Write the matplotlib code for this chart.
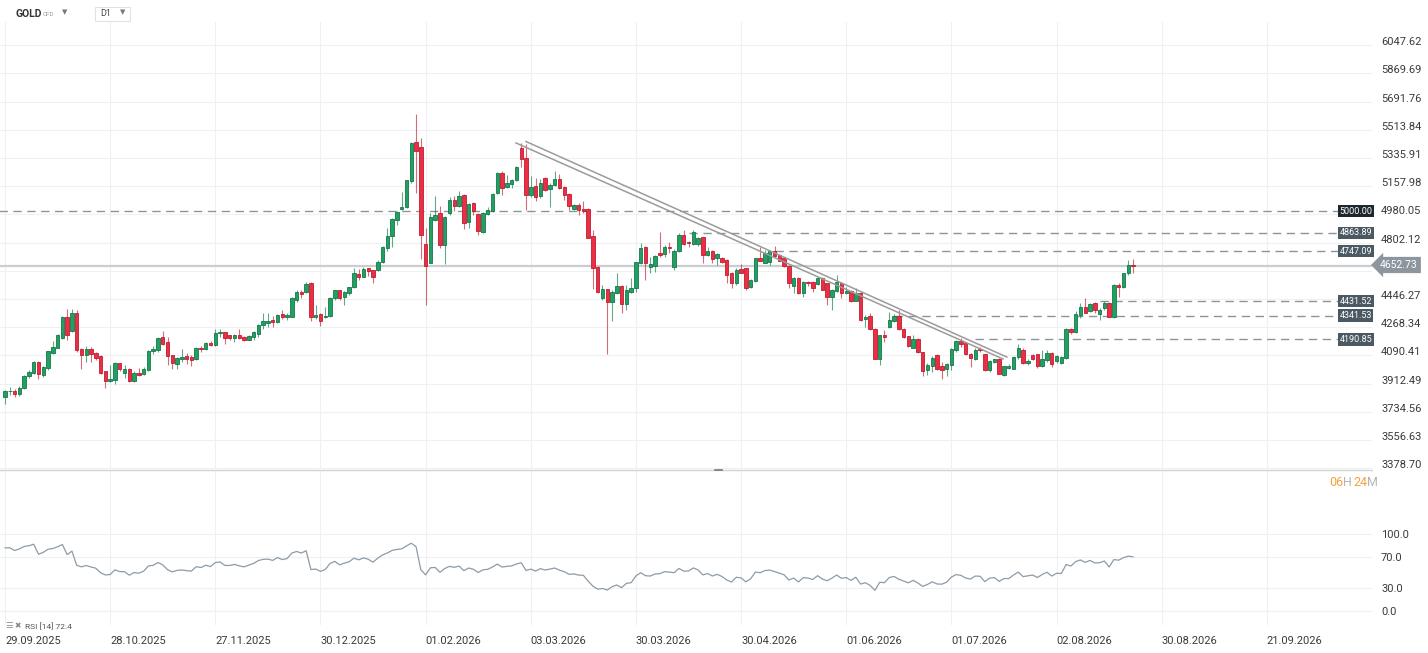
import numpy as np
import matplotlib
matplotlib.use("Agg")
import matplotlib.pyplot as plt
import matplotlib.transforms as mtransforms
from matplotlib.lines import Line2D

plt.rcParams['font.family'] = ['Roboto', 'DejaVu Sans']

# daily candles, GOLD CFD
open_ = [3827, 3863, 3866, 3845, 3884, 3960, 3980, 4047, 3965, 4012,
         4108, 4140, 4203, 4334, 4245, 4357, 4129, 4091, 4129, 4106,
         4085, 3990, 3931, 3935, 4041, 3977, 4007, 3931, 3982, 3973,
         4000, 4117, 4123, 4207, 4175, 4091, 4036, 4066, 4085, 4081,
         4066, 4140, 4128, 4170, 4153, 4229, 4237, 4216, 4201, 4216,
         4205, 4190, 4207, 4226, 4285, 4296, 4313, 4304, 4349, 4330,
         4334, 4439, 4492, 4492, 4545, 4330, 4349, 4330, 4340, 4450,
         4500, 4456, 4482, 4520, 4606, 4587, 4640, 4629, 4629, 4678,
         4766, 4841, 4946, 5014, 5027, 5189, 5438, 5406, 4794, 4676,
         4946, 4989, 4788, 4989, 5073, 5030, 5104, 4931, 5052, 4982,
         4872, 4982, 5003, 5115, 5241, 5153, 5174, 5197, 5396, 5336,
         5104, 5161, 5094, 5210, 5140, 5168, 5206, 5153, 5109, 5016,
         5041, 5016, 5014, 4845, 4651, 4450, 4507, 4425, 4482, 4529,
         4415, 4488, 4514, 4676, 4777, 4651, 4655, 4735, 4731, 4777,
         4650, 4750, 4851, 4809, 4794, 4794, 4836, 4724, 4752, 4703,
         4707, 4693, 4613, 4545, 4634, 4640, 4524, 4560, 4703, 4676,
         4682, 4746, 4724, 4703, 4657, 4530, 4577, 4486, 4556, 4556,
         4539, 4577, 4545, 4461, 4497, 4550, 4486, 4497, 4435, 4486,
         4323, 4338, 4260, 4070, 4218, 4271, 4309, 4338, 4260, 4212,
         4138, 4195, 4112, 3996, 4022, 4091, 4022, 4007, 4028, 4123,
         4180, 4170, 4100, 4070, 4129, 4098, 3996, 4049, 4070, 3965,
         4011, 4007, 4081, 4123, 4043, 4095, 4098, 4024, 4060, 4108,
         4056, 4043, 4077, 4256, 4235, 4345, 4397, 4372, 4418, 4351,
         4387, 4423, 4334, 4537, 4520, 4608, 4661]
high = [3870, 3890, 3880, 3895, 3968, 3996, 4057, 4057, 4024, 4120,
        4180, 4225, 4340, 4382, 4382, 4376, 4135, 4150, 4144, 4112,
        4090, 3995, 4028, 4049, 4045, 4028, 4011, 3990, 4011, 4018,
        4125, 4150, 4207, 4243, 4207, 4095, 4080, 4129, 4108, 4091,
        4146, 4149, 4176, 4180, 4260, 4260, 4241, 4220, 4225, 4260,
        4215, 4220, 4245, 4290, 4355, 4355, 4338, 4350, 4380, 4355,
        4456, 4503, 4503, 4555, 4555, 4408, 4355, 4397, 4460, 4505,
        4503, 4497, 4525, 4640, 4634, 4646, 4645, 4632, 4693, 4782,
        4893, 4957, 5003, 5119, 5199, 5436, 5611, 5463, 4894, 4989,
        5098, 5035, 4970, 5087, 5094, 5125, 5111, 5055, 5058, 4990,
        4995, 5024, 5115, 5250, 5252, 5227, 5205, 5283, 5432, 5425,
        5220, 5210, 5206, 5215, 5176, 5252, 5235, 5158, 5112, 5045,
        5052, 5062, 5018, 4883, 4655, 4535, 4510, 4500, 4609, 4533,
        4535, 4577, 4682, 4799, 4780, 4714, 4722, 4866, 4788, 4809,
        4760, 4862, 4883, 4815, 4880, 4840, 4840, 4777, 4756, 4735,
        4713, 4698, 4618, 4640, 4667, 4645, 4570, 4708, 4773, 4756,
        4756, 4781, 4730, 4713, 4660, 4582, 4585, 4560, 4560, 4560,
        4582, 4582, 4550, 4510, 4598, 4555, 4520, 4502, 4513, 4490,
        4345, 4359, 4265, 4222, 4250, 4366, 4350, 4380, 4262, 4215,
        4218, 4200, 4115, 4040, 4085, 4098, 4049, 4040, 4134, 4190,
        4203, 4175, 4105, 4134, 4144, 4102, 4060, 4070, 4074, 4025,
        4039, 4085, 4165, 4135, 4070, 4102, 4102, 4123, 4123, 4110,
        4090, 4085, 4265, 4262, 4372, 4418, 4450, 4418, 4425, 4387,
        4432, 4428, 4540, 4545, 4612, 4693, 4697]
low = [3785, 3840, 3830, 3835, 3878, 3950, 3973, 3944, 3954, 4000,
       4100, 4135, 4197, 4186, 4239, 4115, 4003, 4049, 4049, 4060,
       3973, 3884, 3925, 3912, 3995, 3948, 3925, 3925, 3960, 3965,
       3995, 4102, 4112, 4155, 4028, 4007, 4003, 4049, 4038, 4024,
       4062, 4113, 4123, 4147, 4149, 4208, 4165, 4187, 4176, 4197,
       4180, 4185, 4186, 4205, 4260, 4270, 4270, 4295, 4321, 4313,
       4330, 4429, 4450, 4482, 4309, 4323, 4277, 4325, 4335, 4443,
       4443, 4408, 4471, 4513, 4566, 4583, 4591, 4545, 4625, 4672,
       4750, 4777, 4915, 5010, 5020, 5178, 5115, 4697, 4408, 4672,
       4936, 4767, 4666, 4978, 5000, 5025, 4889, 4897, 4978, 4851,
       4865, 4975, 4998, 5110, 5104, 5146, 5146, 5190, 5280, 5009,
       5087, 5062, 5083, 5130, 5024, 5160, 5140, 5073, 5009, 5010,
       4978, 4989, 4830, 4507, 4482, 4440, 4098, 4309, 4478, 4355,
       4377, 4485, 4493, 4670, 4566, 4609, 4619, 4714, 4714, 4735,
       4630, 4745, 4788, 4777, 4790, 4780, 4672, 4720, 4672, 4661,
       4672, 4545, 4513, 4535, 4610, 4503, 4518, 4555, 4685, 4672,
       4660, 4713, 4685, 4651, 4513, 4486, 4478, 4461, 4530, 4493,
       4535, 4500, 4408, 4376, 4490, 4452, 4480, 4430, 4432, 4308,
       4272, 4252, 4066, 4028, 4176, 4265, 4300, 4250, 4200, 4142,
       4134, 4108, 3958, 3965, 3986, 3996, 3944, 3958, 4000, 4113,
       4145, 4091, 4018, 4060, 4112, 3992, 3986, 4040, 3970, 3958,
       4005, 4003, 4070, 4039, 4028, 4060, 4013, 4018, 4050, 4018,
       4040, 4039, 4070, 4228, 4230, 4325, 4355, 4365, 4355, 4313,
       4380, 4330, 4328, 4461, 4515, 4598, 4608]
close = [3863, 3866, 3849, 3887, 3962, 3986, 4047, 3971, 4017, 4117,
         4144, 4216, 4334, 4222, 4361, 4123, 4091, 4129, 4100, 4076,
         3981, 3931, 3941, 4041, 4003, 4003, 3931, 3982, 3969, 4007,
         4119, 4133, 4201, 4165, 4085, 4043, 4074, 4081, 4070, 4064,
         4140, 4128, 4170, 4153, 4229, 4240, 4199, 4199, 4216, 4201,
         4190, 4215, 4239, 4285, 4306, 4310, 4300, 4346, 4330, 4346,
         4452, 4492, 4480, 4539, 4334, 4344, 4309, 4340, 4454, 4500,
         4454, 4490, 4520, 4608, 4587, 4638, 4621, 4587, 4682, 4777,
         4845, 4953, 4997, 5027, 5195, 5432, 5379, 4851, 4657, 4961,
         4978, 4784, 4963, 5073, 5035, 5098, 4925, 5047, 5000, 4876,
         4988, 5009, 5109, 5244, 5146, 5178, 5197, 5279, 5332, 5100,
         5153, 5090, 5178, 5136, 5168, 5204, 5146, 5104, 5030, 5041,
         5009, 5003, 4834, 4640, 4493, 4507, 4425, 4493, 4529, 4412,
         4503, 4518, 4678, 4767, 4676, 4665, 4718, 4725, 4777, 4765,
         4752, 4851, 4794, 4798, 4868, 4830, 4724, 4752, 4697, 4729,
         4682, 4598, 4545, 4629, 4613, 4513, 4566, 4703, 4689, 4735,
         4746, 4718, 4689, 4657, 4545, 4577, 4482, 4556, 4545, 4513,
         4577, 4503, 4461, 4503, 4556, 4486, 4499, 4435, 4486, 4313,
         4334, 4256, 4070, 4218, 4207, 4313, 4338, 4260, 4207, 4148,
         4195, 4112, 3992, 4028, 4077, 4007, 4001, 4034, 4129, 4180,
         4161, 4098, 4074, 4127, 4123, 3996, 4056, 4066, 3975, 4022,
         4022, 4081, 4134, 4043, 4056, 4070, 4022, 4070, 4108, 4039,
         4085, 4081, 4260, 4235, 4349, 4397, 4359, 4414, 4376, 4380,
         4423, 4334, 4534, 4524, 4608, 4661, 4652.73]

date_labels = ["29.09.2025", "28.10.2025", "27.11.2025", "30.12.2025", "01.02.2026",
               "03.03.2026", "30.03.2026", "30.04.2026", "01.06.2026", "01.07.2026",
               "02.08.2026", "30.08.2026", "21.09.2026"]
bars_per_label = 22

price_ticks = [3378.70, 3556.63, 3734.56, 3912.49, 4090.41, 4268.34, 4446.27, 4624.19,
               4802.12, 4980.05, 5157.98, 5335.91, 5513.84, 5691.76, 5869.69, 6047.62]

# horizontal levels: price, first bar, box colour
level_price = [5000.00, 4863.89, 4747.09, 4431.52, 4341.53, 4190.85]
level_start = [-2, 143, 161, 229, 186, 203]
level_box = ["#1d272d", "#4a5962", "#4a5962", "#4a5962", "#4a5962", "#4a5962"]
last_price = 4652.73

# two parallel trend lines: (bar, price) -> (bar, price)
trend_a = [(106.9, 5431), (208.8, 4068)]
trend_b = [(109.0, 5440), (209.6, 4080)]

rsi_period = 14
rsi_seed_gain, rsi_seed_loss = 25.0, 5.5
rsi_ticks = [0, 30, 70, 100]

W, H = 1428, 653


def rect(x0, y0, x1, y1):
    return [x0 / W, 1 - y1 / H, (x1 - x0) / W, (y1 - y0) / H]


fig = plt.figure(figsize=(W / 100, H / 100), dpi=100)
ax = fig.add_axes(rect(0, 22, 1372, 469))
rax = fig.add_axes(rect(0, 470, 1372, 625), sharex=ax)

o = np.array(open_, float)
h = np.array(high, float)
l = np.array(low, float)
c = np.array(close, float)
x = np.arange(len(c))
up = c >= o

green_fill, green_edge = "#22a063", "#147847"
red_fill, red_edge = "#ea2f45", "#c01c31"

for mask, fill, edge in [(up, green_fill, green_edge), (~up, red_fill, red_edge)]:
    ax.vlines(x[mask], l[mask], h[mask], color=edge, lw=0.8, alpha=0.65, zorder=3)
    bottom = np.minimum(o, c)[mask]
    height = np.maximum(np.abs(c - o)[mask], 4)
    ax.bar(x[mask], height, bottom=bottom, width=0.72, color=fill,
           edgecolor=edge, linewidth=0.6, zorder=4)

# grid
xt = np.arange(len(date_labels)) * bars_per_label
ax.set_xticks(xt)
ax.set_yticks(price_ticks)
ax.grid(True, color="#eff0f1", lw=0.8, zorder=0)
ax.set_xlim(-1.05, 286.0)
ax.set_ylim(3373.6, 6194.1)
ax.tick_params(axis="both", length=0, labelbottom=False, labelleft=False)
for s in ax.spines.values():
    s.set_visible(False)

# price scale labels, sitting a few pixels above their grid lines
lift = mtransforms.ScaledTranslation(0, 3 / 100, fig.dpi_scale_trans)
ytrans = mtransforms.blended_transform_factory(fig.transFigure, ax.transData) + lift
for v in price_ticks:
    if abs(v - last_price) < 60:
        continue  # hidden under the last-price tag
    fig.text(1381 / W, v, f"{v:.2f}", transform=ytrans, ha="left", va="center",
             fontsize=8, color="#3a3a3a")

# levels
for p, start, bc in zip(level_price, level_start, level_box):
    ax.plot([start, 278.8], [p, p], color="#8b9499", lw=1.0, dashes=(6, 4), zorder=2)
    ax.text(279.2, p, f"{p:.2f}", ha="left", va="center", fontsize=6.5, color="white",
            zorder=6, bbox=dict(boxstyle="square,pad=0.18", fc=bc, ec="none"))

ax.axhline(last_price, color="#c9cdd0", lw=1.6, zorder=2)
fig.text(1380 / W, 1 - 265 / H, f"{last_price:.2f}", ha="left", va="center",
         fontsize=7.5, color="white",
         bbox=dict(boxstyle="larrow,pad=0.3", fc="#8c969c", ec="none"))

for seg in (trend_a, trend_b):
    ax.plot([seg[0][0], seg[1][0]], [seg[0][1], seg[1][1]], color="#9b9b9b", lw=1.1, zorder=5)

# RSI (Wilder) from the closes
gain_avg, loss_avg = rsi_seed_gain, rsi_seed_loss
rsi = [100 - 100 / (1 + gain_avg / loss_avg)]
for d in np.diff(c):
    gain_avg = (gain_avg * (rsi_period - 1) + max(d, 0)) / rsi_period
    loss_avg = (loss_avg * (rsi_period - 1) + max(-d, 0)) / rsi_period
    rsi.append(100 - 100 / (1 + gain_avg / loss_avg))

rax.plot(x, rsi, color="#8e9ba6", lw=0.9)
rax.set_ylim(-18.2, 183.1)
rax.set_yticks(rsi_ticks)
rax.set_yticklabels([f"{v:.1f}" for v in rsi_ticks])
rax.yaxis.tick_right()
rax.grid(True, color="#eff0f1", lw=0.8)
rax.tick_params(axis="y", length=0, pad=6.5, labelsize=8, labelcolor="#3a3a3a")
rax.tick_params(axis="x", length=0, pad=8, labelsize=8, labelcolor="#3a3a3a")
rax.set_xticks(xt)
rax.set_xticklabels(date_labels)
for lab in rax.get_xticklabels():
    lab.set_ha("left")
for s in rax.spines.values():
    s.set_visible(False)

# panel separator
fig.add_artist(Line2D([0, 1372 / W], [1 - 469.5 / H] * 2, color="#cfd3d6", lw=1.0))
fig.add_artist(Line2D([715 / W, 722 / W], [1 - 469.5 / H] * 2, color="#777", lw=1.2))

# header
fig.text(16 / W, 1 - 14 / H, "GOLD", fontsize=7.5, fontweight="bold", color="#333", va="center")
fig.text(43 / W, 1 - 14.5 / H, "CFD", fontsize=4.5, color="#999", va="center")
fig.text(62 / W, 1 - 13 / H, "▼", fontsize=5, color="#777", va="center")
fig.add_artist(plt.Rectangle((95 / W, 1 - 21 / H), 35 / W, 14 / H, fill=False,
                             ec="#e2e2e2", lw=0.8, transform=fig.transFigure))
fig.text(100 / W, 1 - 14 / H, "D1", fontsize=6.5, color="#444", va="center")
fig.text(120 / W, 1 - 13 / H, "▼", fontsize=5, color="#777", va="center")

# countdown
parts = [("06", "#f5a03a", 1329), ("H", "#b5b5b5", 1343), ("24", "#f5a03a", 1353), ("M", "#b5b5b5", 1367)]
for txt, col, px in parts:
    fig.text(px / W, 1 - 482 / H, txt, fontsize=9, color=col, va="center")

# RSI legend
fig.text(5 / W, 1 - 626 / H, "☰", fontsize=6, color="#888", va="center")
fig.text(14 / W, 1 - 626 / H, "✖", fontsize=5.5, color="#888", va="center")
fig.text(25 / W, 1 - 626 / H, "RSI [14] 72.4", fontsize=6, color="#555", va="center")

fig.savefig("out.png", dpi=100, facecolor="white")
